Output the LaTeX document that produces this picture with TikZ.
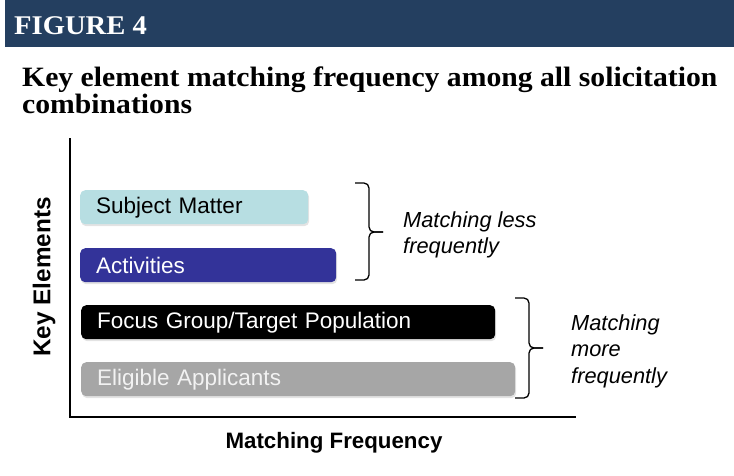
\documentclass[tikz,border=0pt]{standalone}
\usepackage{fontspec}
\setmainfont{Liberation Serif}
\setsansfont{Liberation Sans}
\newfontfamily\titlefont[FakeStretch=1.06]{Liberation Serif}
\usetikzlibrary{shadows}
\definecolor{hdr}{HTML}{243F60}
\definecolor{smcol}{HTML}{B7DEE2}
\definecolor{actcol}{HTML}{333399}
\definecolor{elcol}{HTML}{A6A6A6}
\definecolor{eltxt}{HTML}{F2F2F2}
\tikzset{
  bar/.style={rounded corners=5pt, minimum height=34pt, inner xsep=16pt, inner ysep=0pt,
    align=left, anchor=north west, font=\sffamily\fontsize{22.5}{25}\selectfont,
    drop shadow={opacity=0.22, shadow xshift=1pt, shadow yshift=-2pt}},
  axis/.style={line width=1.4pt, black},
  brc/.style={rounded corners=5pt, line width=1.3pt},
  side/.style={font=\sffamily\itshape\fontsize{21.8}{26.8}\selectfont, align=left, anchor=north west, inner sep=0pt},
  axlabel/.style={font=\sffamily\bfseries\fontsize{22.3}{26}\selectfont, inner sep=0pt}
}
\begin{document}
\begin{tikzpicture}[x=1pt,y=-1pt]
\useasboundingbox (0,0) rectangle (734,475);
% header
\fill[hdr] (5,0) rectangle (734,47);
\node[anchor=base west, inner sep=0pt, text=white, font=\titlefont\bfseries\fontsize{27}{30}\selectfont] (fig) at (14,34) {FIGURE 4};
\node[anchor=base west, inner sep=0pt, align=left, font=\titlefont\bfseries\fontsize{28}{27}\selectfont] (title) at (22,113) {Key element matching frequency among all solicitation\\combinations};
% axes
\coordinate (ytop) at (70,138);
\coordinate (orig) at (70,417);
\coordinate (xend) at (576,417);
\draw[axis] (ytop) -- (orig) -- (xend);
% bars
\node[bar, fill=smcol, text=black, text width=196pt] (sm) at (80,190) {Subject Matter};
\node[bar, fill=actcol, text=white, text width=224pt] (act) at (80,248) {Activities};
\node[bar, fill=black, text=white, text width=382pt] (fg) at (81,305) {Focus Group/Target Population};
\node[bar, fill=elcol, text=eltxt, text width=402pt] (el) at (81,362) {Eligible Applicants};
% braces
\coordinate (b1t) at (355,183);
\coordinate (b1m) at (383,232);
\coordinate (b1b) at (355,280);
\draw[brc] (b1t) -- ++(14,0) |- (b1m);
\draw[brc] (b1m) -- ++(-14,0) |- (b1b);
\coordinate (b2t) at (515,298);
\coordinate (b2m) at (543,348);
\coordinate (b2b) at (515,398);
\draw[brc] (b2t) -- ++(14,0) |- (b2m);
\draw[brc] (b2m) -- ++(-14,0) |- (b2b);
\node[side] (less) at (403,211) {Matching less\\frequently};
\node[side] (more) at (571,314) {Matching\\more\\frequently};
% axis labels
\node[axlabel, rotate=90, font=\sffamily\bfseries\fontsize{24.3}{26}\selectfont] (ylab) at (44,277) {Key Elements};
\node[axlabel] (xlab) at (334,443) {Matching Frequency};
\end{tikzpicture}
\end{document}
